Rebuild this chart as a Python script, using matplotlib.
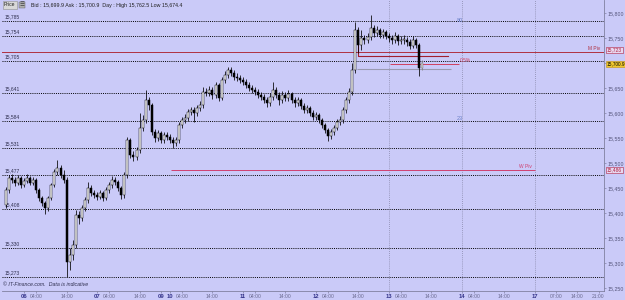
import numpy as np
import matplotlib
matplotlib.use("Agg")
import matplotlib.pyplot as plt
import matplotlib.transforms as mtransforms

plt.rcParams['font.family'] = ['Liberation Sans', 'DejaVu Sans']

# hourly candles (hour 0 = day 06 00:00, compressed trading time)
first_open = 15416
closes = [15446, 15470, 15466, 15460, 15470, 15456, 15464, 15470, 15460, 15466,
          15446, 15430, 15420, 15410, 15430, 15456, 15482, 15490, 15476, 15466,
          15302, 15316, 15336, 15396, 15390, 15410, 15426, 15450, 15440, 15436,
          15432, 15440, 15430, 15446, 15456, 15466, 15462, 15450, 15436, 15476,
          15546, 15516, 15512, 15526, 15570, 15586, 15626, 15616, 15562, 15550,
          15560, 15546, 15556, 15552, 15546, 15540, 15546, 15576, 15586, 15590,
          15602, 15606, 15600, 15610, 15616, 15642, 15640, 15646, 15636, 15656,
          15630, 15666, 15676, 15686, 15680, 15672, 15670, 15666, 15662, 15656,
          15650, 15646, 15642, 15636, 15632, 15626, 15620, 15632, 15646, 15636,
          15626, 15636, 15630, 15638, 15626, 15620, 15626, 15614, 15606, 15610,
          15600, 15592, 15596, 15586, 15576, 15566, 15554, 15562, 15570, 15582,
          15586, 15606, 15626, 15642, 15686, 15766, 15736, 15750, 15746, 15752,
          15770, 15760, 15766, 15756, 15762, 15754, 15750, 15746, 15754, 15744,
          15746, 15746, 15742, 15734, 15746, 15736, 15690, 15700.9]
highs = [15452, 15476, 15478, 15472, 15476, 15474, 15470, 15478, 15474, 15472,
         15470, 15450, 15434, 15424, 15434, 15460, 15488, 15506, 15496, 15486,
         15472, 15330, 15346, 15406, 15404, 15416, 15432, 15462, 15456, 15446,
         15442, 15446, 15444, 15452, 15462, 15474, 15472, 15466, 15454, 15482,
         15552, 15550, 15524, 15532, 15600, 15596, 15646, 15632, 15620, 15568,
         15566, 15564, 15562, 15562, 15558, 15552, 15552, 15582, 15592, 15598,
         15608, 15612, 15612, 15616, 15624, 15652, 15650, 15654, 15652, 15662,
         15660, 15672, 15684, 15692, 15692, 15686, 15680, 15676, 15672, 15668,
         15662, 15656, 15652, 15648, 15642, 15638, 15632, 15640, 15662, 15652,
         15642, 15644, 15642, 15646, 15642, 15632, 15632, 15630, 15620, 15616,
         15614, 15606, 15602, 15600, 15590, 15580, 15570, 15568, 15576, 15588,
         15594, 15612, 15632, 15650, 15700, 15782, 15772, 15766, 15756, 15760,
         15796, 15776, 15774, 15770, 15768, 15766, 15760, 15756, 15762, 15758,
         15754, 15756, 15752, 15748, 15754, 15750, 15740, 15706]
lows = [15410, 15440, 15460, 15454, 15456, 15450, 15452, 15460, 15456, 15456,
        15440, 15424, 15414, 15398, 15404, 15426, 15452, 15476, 15470, 15460,
        15272, 15286, 15306, 15330, 15378, 15384, 15404, 15420, 15434, 15430,
        15426, 15428, 15424, 15426, 15440, 15450, 15456, 15444, 15428, 15430,
        15470, 15510, 15504, 15506, 15520, 15564, 15580, 15606, 15556, 15542,
        15544, 15540, 15540, 15546, 15540, 15530, 15534, 15540, 15570, 15580,
        15584, 15596, 15582, 15594, 15604, 15610, 15634, 15634, 15628, 15630,
        15624, 15626, 15660, 15670, 15674, 15666, 15664, 15660, 15656, 15650,
        15644, 15640, 15636, 15630, 15626, 15620, 15612, 15614, 15626, 15630,
        15616, 15620, 15624, 15624, 15620, 15612, 15614, 15608, 15600, 15600,
        15594, 15586, 15586, 15580, 15570, 15560, 15544, 15548, 15556, 15566,
        15576, 15580, 15600, 15620, 15636, 15680, 15720, 15726, 15738, 15740,
        15746, 15752, 15754, 15750, 15750, 15748, 15742, 15738, 15740, 15736,
        15738, 15738, 15734, 15728, 15730, 15730, 15674, 15686]
start_hour = -6

level_prices = [15785, 15754, 15705, 15641, 15584, 15531, 15477, 15408, 15330, 15273]
level_labels = ['15,785', '15,754', '15,705', '15,641', '15,584', '15,531',
                '15,477', '15,408', '15,330', '15,273']

m_piv = 15723
w_piv = 15486
last_price = 15700.9

tick_hours = [0, 4, 14, 24, 28, 38, 45, 48, 52, 62, 72, 76, 86, 96, 100, 110,
              120, 124, 134, 144, 148, 158, 168, 175, 182, 189]
tick_labels = ['06', '04:00', '14:00', '07', '04:00', '14:00', '09', '10', '04:00',
               '14:00', '11', '04:00', '14:00', '12', '04:00', '14:00', '13', '04:00',
               '14:00', '14', '04:00', '14:00', '17', '07:00', '14:00', '21:00']
day_lines = [120, 144, 168]

bg = '#CACAF8'
fig = plt.figure(figsize=(6.25, 3.0), dpi=100, facecolor=bg)
ax = fig.add_axes([2 / 625, 9 / 300, 602 / 625, 291 / 300], facecolor=bg)

x0, x1 = -7.25, 190.8
ax.set_xlim(x0, x1)
ax.set_ylim(15244, 15826)

# dotted levels with small labels
for p, lab in zip(level_prices, level_labels):
    ax.axhline(p, color='black', ls=(0, (1, 1.2)), lw=0.7, zorder=1)
    ax.text(x0 + 1.0, p + 3, lab, fontsize=3.6, color='#303050', va='bottom', ha='left')

for d in day_lines:
    ax.axvline(d, color='#8888aa', ls=(0, (1, 1.5)), lw=0.6, zorder=1)

# pivots and other lines
ax.axhline(m_piv, color='#b03040', lw=0.7, zorder=2)
ax.text(187.5, m_piv + 2, 'M Piv', fontsize=3.5, color='#b03040', va='bottom', ha='center')
ax.hlines(w_piv, 48.5, 168, color='#d04070', lw=0.7, zorder=2)
ax.text(165, w_piv + 2, 'W Piv', fontsize=3.5, color='#d04070', va='bottom', ha='center')
ax.plot([110, 110, 139.5], [15740, 15714, 15714], color='#a02030', lw=0.8, zorder=2)
ax.hlines(15698, 120.5, 143, color='#d04060', lw=0.7, zorder=2)
ax.text(143.5, 15700, '0.5%', fontsize=3.5, color='#d04060', va='bottom', ha='left')
ax.hlines(15688, 109.5, 140.5, color='#9a9ab0', lw=0.8, zorder=2)
ax.text(142.5, 15784, '80', fontsize=4, color='#6a80c8', va='center')
ax.text(142.5, 15588, '23', fontsize=4, color='#6a80c8', va='center')

# candles
hours = np.arange(start_hour, start_hour + len(closes))
opens = [first_open] + closes[:-1]
w = 0.66
for i, (h, o, c, hi, lo) in enumerate(zip(hours, opens, closes, highs, lows)):
    last = i == len(closes) - 1
    edge = '#808080' if last else 'black'
    ax.vlines(h, lo, hi, color=edge, lw=0.55, zorder=3)
    if c >= o:
        face = '#c8c8c8' if last else 'white'
    else:
        face = '#808080' if last else 'black'
    ax.bar(h, max(abs(c - o), 1.5), bottom=min(o, c), width=w, color=face,
           edgecolor=edge, linewidth=0.35, zorder=4)

# x axis
ax.set_xticks(tick_hours)
ax.set_xticklabels(tick_labels)
for t, lab in zip(ax.get_xticklabels(), tick_labels):
    if ':' in lab:
        t.set_color('#6a6a90')
        t.set_fontsize(3.6)
    else:
        t.set_color('#33338a')
        t.set_fontsize(4.2)
        t.set_fontweight('bold')
ax.tick_params(axis='x', length=1.5, width=0.4, color='#707090', pad=1)

# right price axis (15,700 hidden behind the last-price box)
yt = np.arange(15250, 15801, 50)
ax.yaxis.tick_right()
ax.set_yticks(yt)
ax.set_yticklabels(['' if v == 15700 else '{:,}'.format(v) for v in yt])
ax.tick_params(axis='y', length=1.5, width=0.4, color='#707090', pad=1,
               labelsize=3.8, labelcolor='#55557a')

for s in ['top', 'left']:
    ax.spines[s].set_visible(False)
for s in ['right', 'bottom']:
    ax.spines[s].set_color('#8080a0')
    ax.spines[s].set_linewidth(0.6)

# price boxes on the axis
tr = mtransforms.blended_transform_factory(ax.transAxes, ax.transData)
ax.text(1.005, m_piv + 3, '15,723', transform=tr, fontsize=3.5, color='#b02040', va='center',
        bbox=dict(boxstyle='square,pad=0.12', fc='#e8d8f0', ec='#b02040', lw=0.4), clip_on=False)
ax.text(1.004, last_price - 2, '15,700.9', transform=tr, fontsize=3.4, color='black', va='center',
        bbox=dict(boxstyle='square,pad=0.1', fc='#f0c830', ec='#c09010', lw=0.4), clip_on=False)
ax.text(1.005, w_piv, '15,486', transform=tr, fontsize=3.5, color='#b02040', va='center',
        bbox=dict(boxstyle='square,pad=0.12', fc='#e8d8f0', ec='#b02040', lw=0.4), clip_on=False)

# header and footer
fig.text(4 / 625, 1 - 5 / 300, 'Price', fontsize=3.6, color='#202020', va='center',
         bbox=dict(boxstyle='square,pad=0.3', fc='#d8d8d8', ec='#909090', lw=0.4))
fig.text(20 / 625, 1 - 5 / 300, '\u2630', fontsize=4, color='#404040', va='center',
         bbox=dict(boxstyle='square,pad=0.1', fc='#b0b0b0', ec='#606060', lw=0.3))
fig.text(31 / 625, 1 - 5 / 300, 'Bid : 15,699.9 Ask : 15,700.9  Day : High 15,762.5 Low 15,674.4',
         fontsize=3.8, color='#202020', va='center')
fig.text(3 / 625, 1 - 285 / 300, '\u00a9 IT-Finance.com.  Data is indicative', fontsize=3.8,
         color='#303050', style='italic', va='center')

fig.savefig('out.png', dpi=100, facecolor=bg)
